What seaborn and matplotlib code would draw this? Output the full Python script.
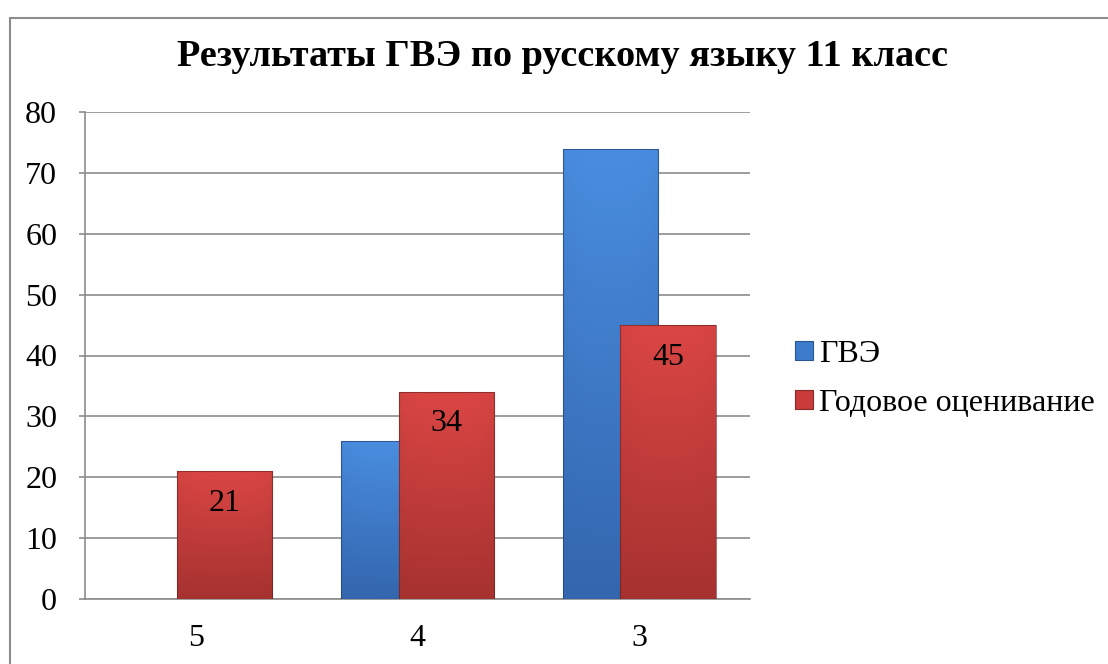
import numpy as np
import pandas as pd
import matplotlib
matplotlib.use("Agg")
import matplotlib.pyplot as plt
import seaborn as sns
from matplotlib.patches import Patch, Rectangle
from matplotlib.colors import LinearSegmentedColormap

categories = ["5", "4", "3"]
series_names = ["ГВЭ", "Годовое оценивание"]
gve_values = [0, 26, 74]
annual_values = [21, 34, 45]
y_ticks = [0, 10, 20, 30, 40, 50, 60, 70, 80]
title = "Результаты ГВЭ по русскому языку 11 класс"

sns.set_theme(style="white")
plt.rcParams['font.family'] = ['Liberation Serif', 'DejaVu Serif']
plt.rcParams['text.color'] = 'black'
plt.rcParams['xtick.color'] = 'black'
plt.rcParams['ytick.color'] = 'black'

df = pd.DataFrame({
    "cat": categories * 2,
    "val": gve_values + annual_values,
    "series": [series_names[0]] * 3 + [series_names[1]] * 3,
})

fig = plt.figure(figsize=(11.08, 6.64), dpi=100)
ax = fig.add_axes([85 / 1108, 1 - 599 / 664, (750 - 85) / 1108, (599 - 112) / 664])

blue_top, blue_bot = "#4a8ee0", "#3366ae"
red_top, red_bot = "#da4644", "#a63230"
bar_w = 0.43
offset = 0.13
FS = 23

for k, (name, vals, ctop, cbot, sign, edge) in enumerate([
    (series_names[0], gve_values, blue_top, blue_bot, -1, (0.12, 0.22, 0.40, 0.6)),
    (series_names[1], annual_values, red_top, red_bot, 1, (0.40, 0.12, 0.12, 0.6)),
]):
    sub = df[df["series"] == name]
    before = len(ax.patches)
    sns.barplot(data=sub, x="cat", y="val", order=categories, color=ctop,
                width=bar_w, ax=ax, saturation=1, edgecolor="none")
    new = ax.patches[before:]
    cmap = LinearSegmentedColormap.from_list("g", [cbot, ctop])
    zbase = 3 + 2 * k
    for p in new:
        p.set_x(p.get_x() + sign * offset)
        h = p.get_height()
        if h <= 0:
            p.set_visible(False)
            continue
        x0 = p.get_x(); w = p.get_width()
        grad = np.linspace(0, 1, 256).reshape(-1, 1)
        hz = 1 - 0.12 * np.abs(np.linspace(-1, 1, 64)).reshape(1, -1) ** 3
        img = grad * hz
        im = ax.imshow(img, extent=[x0, x0 + w, 0, h], origin="lower",
                       cmap=cmap, vmin=0, vmax=1, aspect="auto", zorder=zbase + 0.5)
        im.set_clip_path(p)
        p.set_facecolor("none")
        p.set_edgecolor(edge)
        p.set_linewidth(0.8)
        p.set_zorder(zbase + 1)

for i, v in enumerate(annual_values):
    ax.annotate(str(v), xy=(i + offset, v), xytext=(0, -23), textcoords="offset points",
                ha="center", va="center", fontsize=FS, color="black", zorder=10)

ax.set_xlim(-0.5, 2.5)
ax.set_ylim(0, 80)
ax.set_yticks(y_ticks)
ax.set_yticklabels([str(t) for t in y_ticks], fontsize=FS)
ax.tick_params(axis="x", labelsize=FS, length=0, pad=18)
ax.tick_params(axis="y", left=True, length=4, width=1.2, color="#8c8c8c", pad=16)
ax.set_xlabel("")
ax.set_ylabel("")
ax.yaxis.grid(True, color="#8c8c8c", linewidth=1.2, zorder=0)
ax.set_axisbelow(True)
for s in ["top", "right"]:
    ax.spines[s].set_visible(False)
for s in ["left", "bottom"]:
    ax.spines[s].set_color("#8c8c8c")
    ax.spines[s].set_linewidth(1.2)
ax.set_facecolor("white")

handles = [Patch(facecolor="#3d7bcc", edgecolor="#2a558f", linewidth=0.8),
           Patch(facecolor="#c93c3a", edgecolor="#8a2a28", linewidth=0.8)]
fig.legend(handles, series_names, loc="center left", bbox_to_anchor=(795 / 1108, 1 - 379 / 664),
           frameon=False, fontsize=FS, handlelength=0.55, handleheight=0.55,
           handletextpad=0.2, labelspacing=0.62, borderaxespad=0, borderpad=0)

fig.text(563 / 1108, 1 - 57 / 664, title, ha="center", va="center",
         fontsize=27.5, fontweight="bold", color="black")

fig.patches.append(Rectangle((10 / 1108, -0.05), 1.2, 1 - 18 / 664 + 0.05,
                             transform=fig.transFigure, fill=False,
                             edgecolor="#8c8c8c", linewidth=1.5, zorder=0))

fig.savefig("out.png", dpi=100, facecolor="white")
